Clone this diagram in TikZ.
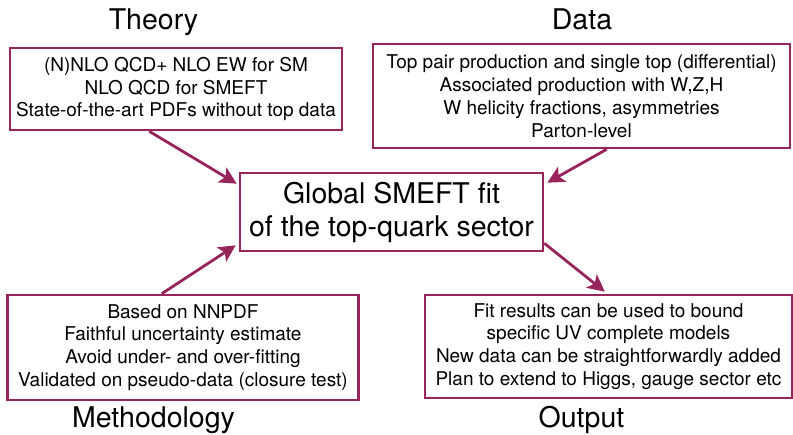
\documentclass[tikz,border=0pt]{standalone}
\usepackage{fontspec}
\setmainfont{TeX Gyre Heros}
\usetikzlibrary{arrows.meta,calc}
\definecolor{pen}{RGB}{152,36,92}
\tikzset{
  panel/.style={draw=pen, line width=2.6pt, rectangle, inner sep=0pt,
    align=center, font=\fontsize{19}{22.8}\selectfont},
  heading/.style={anchor=base, inner sep=0pt, font=\fontsize{28.5}{30}\selectfont},
  link/.style={draw=pen, line width=2.8pt,
    -{Stealth[length=17pt,width=17pt,inset=4pt]}}
}
\begin{document}
\begin{tikzpicture}[x=1pt,y=-1pt]
\useasboundingbox (0,0) rectangle (793,435);
\fill[white] (0,0) rectangle (793,435);

% headings
\node[heading] (htheory) at (153.5,30) {Theory};
\node[heading] (hdata) at (582,30) {Data};
\node[heading] (hmethod) at (153.5,428) {Methodology};
\node[heading] (houtput) at (581.5,428) {Output};

% boxes
\node[panel, minimum width=332pt, minimum height=82pt] (theory) at (176,89)
  {(N)NLO QCD+ NLO EW for SM\\NLO QCD for SMEFT\\State-of-the-art PDFs without top data};
\node[panel, minimum width=417pt, minimum height=104pt] (data) at (581.5,96)
  {Top pair production and single top (differential)\\Associated production with W,Z,H\\W helicity fractions, asymmetries\\Parton-level};
\node[panel, minimum width=303pt, minimum height=78pt,
      font=\fontsize{28.5}{33}\selectfont] (fit) at (391.5,212)
  {Global SMEFT fit\\of the top-quark sector};
\node[panel, minimum width=351pt, minimum height=105pt] (method) at (183,347.5)
  {Based on NNPDF\\Faithful uncertainty estimate\\Avoid under- and over-fitting\\Validated on pseudo-data (closure test)};
\node[panel, minimum width=367pt, minimum height=103pt] (output) at (608.5,346.5)
  {Fit results can be used to bound\\specific UV complete models\\New data can be straightforwardly added\\Plan to extend to Higgs, gauge sector etc};

% arrow end points
\coordinate (tA) at ($(theory.south west)!0.42!(theory.south east)$);
\coordinate (tB) at ($(fit.north west)+(-2,12)$);
\coordinate (dA) at ($(data.south west)!0.56!(data.south east)$);
\coordinate (dB) at ($(fit.north east)+(3,11)$);
\coordinate (mA) at ($(method.north west)!0.44!(method.north east)$);
\coordinate (mB) at ($(fit.south west)+(-3,-7)$);
\coordinate (oA) at ($(fit.south east)+(0,-9)$);
\coordinate (oB) at ($(output.north west)!0.49!(output.north east)+(0,-2)$);

\draw[link] (tA) -- (tB);
\draw[link] (dA) -- (dB);
\draw[link] (mA) -- (mB);
\draw[link] (oA) -- (oB);
\end{tikzpicture}
\end{document}
